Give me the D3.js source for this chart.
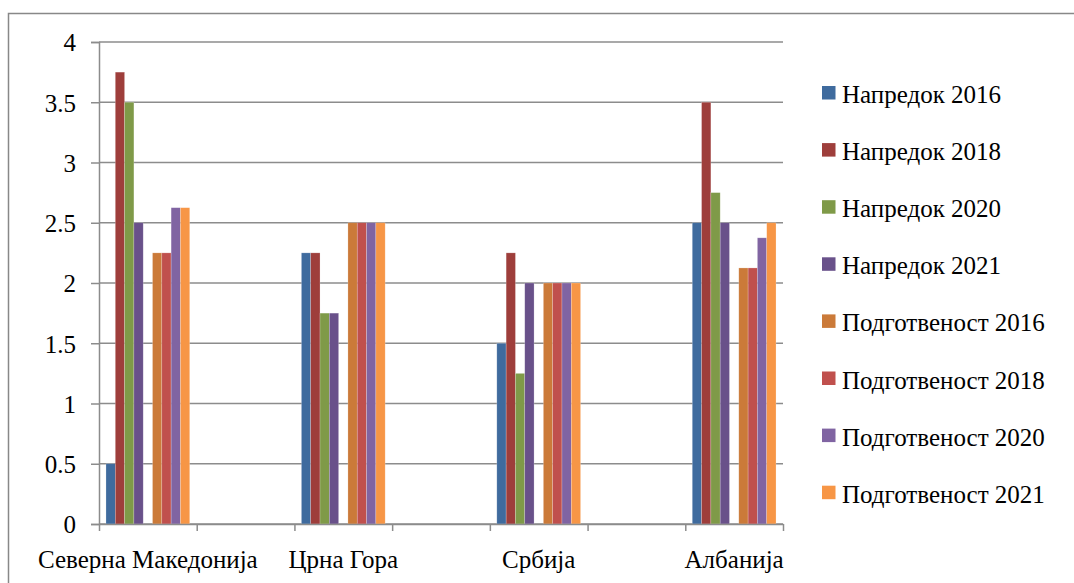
<!DOCTYPE html>
<html><head><meta charset="utf-8">
<script src="https://cdn.jsdelivr.net/npm/d3@7"></script>
<style>body{margin:0;background:#fff}svg{display:block}
svg text{font-family:"Times New Roman","Liberation Serif","DejaVu Serif",serif;}</style>
</head><body>
<svg id="c" width="1074" height="583"></svg>
<script>
const categories = ["Северна Македонија", "", "Црна Гора", "", "Србија", "", "Албанија"];
const seriesNames = ["Напредок 2016","Напредок 2018","Напредок 2020","Напредок 2021","","Подготвеност 2016","Подготвеност 2018","Подготвеност 2020","Подготвеност 2021"];
const colors = ["#3F6B9E","#9E3E3B","#7F9A48","#69518A","none","#CB7A39","#C0504D","#8064A2","#F79646"];
const napredok2016 = [0.5, null, 2.25, null, 1.5, null, 2.5];
const napredok2018 = [3.75, null, 2.25, null, 2.25, null, 3.5];
const napredok2020 = [3.5, null, 1.75, null, 1.25, null, 2.75];
const napredok2021 = [2.5, null, 1.75, null, 2.0, null, 2.5];
const emptySeries = [null, null, null, null, null, null, null];
const podg2016 = [2.25, null, 2.5, null, 2.0, null, 2.125];
const podg2018 = [2.25, null, 2.5, null, 2.0, null, 2.125];
const podg2020 = [2.625, null, 2.5, null, 2.0, null, 2.375];
const podg2021 = [2.625, null, 2.5, null, 2.0, null, 2.5];
const yTicks = [0, 0.5, 1, 1.5, 2, 2.5, 3, 3.5, 4];
const yTickLabels = ["0","0.5","1","1.5","2","2.5","3","3.5","4"];

const seriesValues = [napredok2016, napredok2018, napredok2020, napredok2021, emptySeries, podg2016, podg2018, podg2020, podg2021];

const svg = d3.select("#c");
const font = '"Times New Roman","Liberation Serif","DejaVu Serif",serif';
const fs = "25px";
const L = 99, R = 783, T = 42, B = 524;

svg.append("rect").attr("x", 8.5).attr("y", 13.5).attr("width", 1080).attr("height", 600)
  .attr("fill", "#fff").attr("stroke", "#888").attr("stroke-width", 1.5);

const x = d3.scaleBand().domain(d3.range(categories.length)).range([L, R]).paddingInner(0).paddingOuter(0);
const y = d3.scaleLinear().domain([0, 4]).range([B, T]);
const slotCount = seriesNames.length;
const gapRatio = 1.5;
const half = x.bandwidth() * gapRatio / (slotCount + gapRatio) / 2;
const xs = d3.scaleBand().domain(d3.range(slotCount)).range([half, x.bandwidth() - half]).padding(0);

// gridlines
svg.append("g").selectAll("line").data(yTicks).join("line")
  .attr("x1", L).attr("x2", R).attr("y1", d => y(d)).attr("y2", d => y(d))
  .attr("stroke", "#8c8c8c").attr("stroke-width", 1.5);

// bars
const g = svg.append("g");
seriesValues.forEach((vals, si) => {
  if (colors[si] === "none") return;
  g.append("g").selectAll("rect").data(vals.map((v, i) => ({v, i})).filter(d => d.v != null)).join("rect")
    .attr("x", d => x(d.i) + xs(si))
    .attr("width", xs.bandwidth())
    .attr("y", d => y(d.v))
    .attr("height", d => y(0) - y(d.v))
    .attr("fill", colors[si])
    .attr("stroke", "rgba(255,255,255,0.35)").attr("stroke-width", 0.6);
});

// y axis
const yAxis = d3.axisLeft(y).tickValues(yTicks).tickFormat((d, i) => yTickLabels[i]).tickSize(8).tickPadding(15);
const ya = svg.append("g").attr("transform", `translate(${L},0)`).call(yAxis).attr("font-family", null);
ya.select(".domain").attr("stroke", "#8c8c8c").attr("stroke-width", 1.5);
ya.selectAll(".tick line").attr("stroke", "#8c8c8c").attr("stroke-width", 1.5);
ya.selectAll(".tick text").style("font-family", font).style("font-size", fs).attr("fill", "#000").attr("dy", "0.35em");

// x axis
const xAxis = d3.axisBottom(d3.scaleLinear().domain([0, categories.length]).range([L, R]))
  .tickValues(d3.range(categories.length + 1)).tickFormat("").tickSize(7).tickSizeOuter(0);
const xa = svg.append("g").attr("transform", `translate(0,${B})`).call(xAxis);
xa.select(".domain").attr("stroke", "#8c8c8c").attr("stroke-width", 1.5);
xa.selectAll(".tick line").attr("stroke", "#8c8c8c").attr("stroke-width", 1.5);
svg.append("g").selectAll("text").data(categories).join("text")
  .attr("x", (d, i) => x(i) + x.bandwidth() / 2).attr("y", 568)
  .attr("text-anchor", "middle").style("font-family", font).style("font-size", fs).attr("fill", "#000")
  .text(d => d);

// legend
const legendItems = seriesNames.map((n, i) => ({n, c: colors[i]})).filter(d => d.n !== "");
const lg = svg.append("g").selectAll("g").data(legendItems).join("g")
  .attr("transform", (d, i) => `translate(822,${86 + i * 57.1})`);
lg.append("rect").attr("width", 13.5).attr("height", 13.5).attr("fill", d => d.c);
lg.append("text").attr("x", 20).attr("y", 17).style("font-family", font).style("font-size", fs).attr("fill", "#000").text(d => d.n);
</script>
</body></html>
